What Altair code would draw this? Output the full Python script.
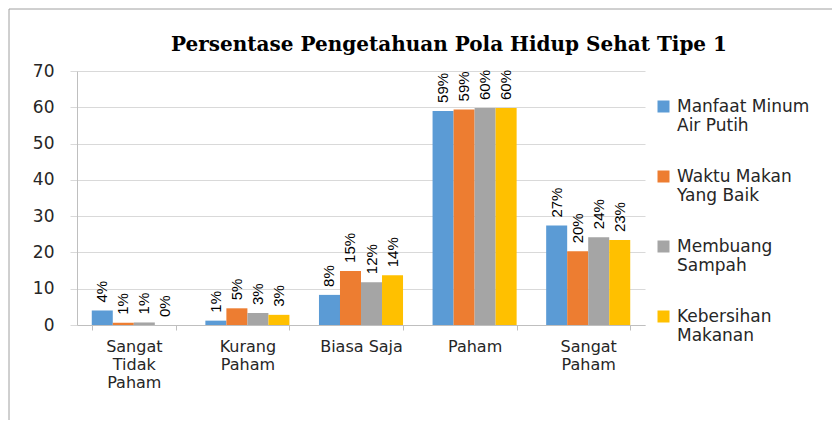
import json
import altair as alt
import pandas as pd

categories = ["Sangat Tidak Paham", "Kurang Paham", "Biasa Saja", "Paham", "Sangat Paham"]
series = ["Manfaat Minum Air Putih", "Waktu Makan Yang Baik", "Membuang Sampah", "Kebersihan Makanan"]
manfaat = [4.0, 1.2, 8.3, 59.0, 27.4]
waktu = [0.6, 4.6, 14.9, 59.4, 20.3]
membuang = [0.7, 3.3, 11.8, 59.8, 24.2]
kebersihan = [0.0, 2.8, 13.7, 59.8, 23.4]
colors = ["#5B9BD5", "#ED7D31", "#A5A5A5", "#FFC000"]
y_ticks = [0, 10, 20, 30, 40, 50, 60, 70]
title_text = "Persentase Pengetahuan Pola Hidup Sehat Tipe 1"

category_lines = {
    "Sangat Tidak Paham": ["Sangat", "Tidak", "Paham"],
    "Kurang Paham": ["Kurang", "Paham"],
    "Biasa Saja": ["Biasa Saja"],
    "Paham": ["Paham"],
    "Sangat Paham": ["Sangat", "Paham"],
}
series_lines = {
    "Manfaat Minum Air Putih": ["Manfaat Minum", "Air Putih"],
    "Waktu Makan Yang Baik": ["Waktu Makan", "Yang Baik"],
    "Membuang Sampah": ["Membuang", "Sampah"],
    "Kebersihan Makanan": ["Kebersihan", "Makanan"],
}

rows = []
for s, vals in zip(series, [manfaat, waktu, membuang, kebersihan]):
    for c, v in zip(categories, vals):
        rows.append({"category": c, "series": s, "value": v})
df = pd.DataFrame(rows)
one = pd.DataFrame({"a": [0]})

FONT = "DejaVu Sans"

base = alt.Chart(df).transform_calculate(
    label="format(datum.value, '.0f') + '%'"
).encode(
    x=alt.X(
        "category:N",
        sort=categories,
        scale=alt.Scale(paddingInner=0.26, paddingOuter=0.13),
        axis=alt.Axis(
            title=None,
            labelAngle=0,
            tickBand="extent",
            labelExpr=json.dumps(category_lines) + "[datum.label]",
            labelLineHeight=18,
            labelFont=FONT,
            labelFontSize=16,
            labelColor="#262626",
            labelBaseline="top",
            labelPadding=8,
            domainColor="#bfbfbf",
            tickColor="#bfbfbf",
            tickSize=5,
            grid=False,
        ),
    ),
    xOffset=alt.XOffset("series:N", sort=series, scale=alt.Scale(paddingInner=0, paddingOuter=0)),
    y=alt.Y(
        "value:Q",
        scale=alt.Scale(domain=[0, 70], nice=False),
        axis=alt.Axis(
            title=None,
            values=y_ticks,
            labelOverlap=False,
            grid=True,
            gridColor="#d9d9d9",
            domainColor="#bfbfbf",
            tickColor="#d9d9d9",
            tickSize=7,
            labelPadding=16,
            labelFont=FONT,
            labelFontSize=17,
            labelColor="#262626",
        ),
    ),
)

bars = base.mark_bar().encode(
    color=alt.Color(
        "series:N",
        sort=series,
        scale=alt.Scale(domain=series, range=colors),
        legend=alt.Legend(
            title=None,
            orient="none",
            legendX=578,
            legendY=27,
            symbolType="square",
            symbolSize=144,
            symbolStrokeWidth=0,
            symbolOpacity=1,
            labelFont=FONT,
            labelFontSize=17,
            labelColor="#262626",
            labelExpr=json.dumps(series_lines) + "[datum.label]",
            labelOffset=5,
            labelLimit=0,
            rowPadding=33,
            padding=0,
        ),
    ),
)

labels = base.mark_text(
    angle=270, align="left", baseline="middle", dx=8,
    font="Liberation Sans", fontSize=15, color="#000000",
).encode(text="label:N")

border_left = alt.Chart(one).mark_rule(color="#a0a0a0", strokeWidth=1).encode(
    x=alt.value(-68), y=alt.value(-62), y2=alt.value(400)
)
border_top = alt.Chart(one).mark_rule(color="#a0a0a0", strokeWidth=1).encode(
    x=alt.value(-68), x2=alt.value(800), y=alt.value(-62)
)

chart = alt.layer(bars, labels, border_left, border_top).properties(
    width=568,
    height=254,
    autosize="none",
    padding={"left": 69, "top": 63, "right": 187, "bottom": 95},
    title=alt.Title(
        title_text,
        font="DejaVu Serif",
        fontSize=20,
        fontWeight="bold",
        color="#000000",
        anchor="middle",
        dx=88,
        dy=60,
        offset=14,
    ),
).configure_view(stroke=None)

chart.save("out.html", embed_options={"renderer": "svg", "actions": False})
